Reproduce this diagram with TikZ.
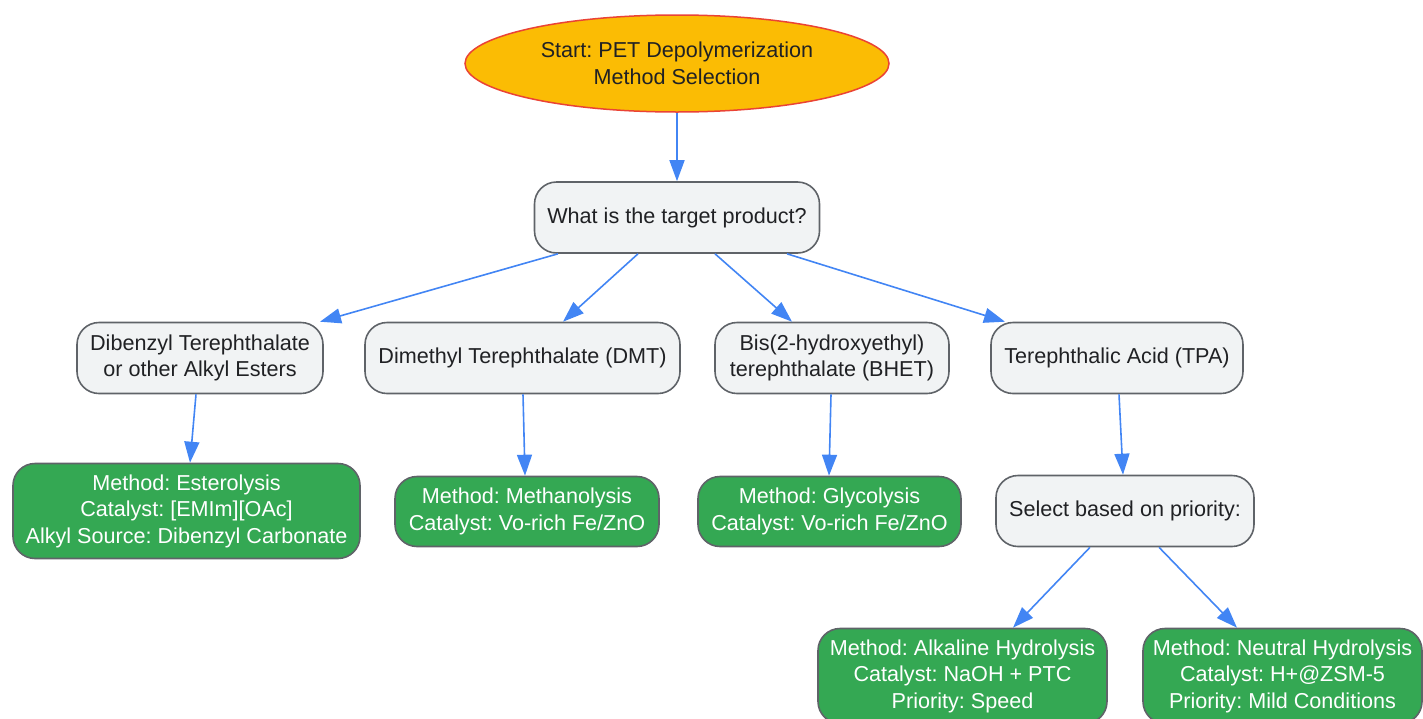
\documentclass[tikz,border=0pt]{standalone}
\usepackage{fontspec}
\setmainfont{Liberation Sans}
\usetikzlibrary{shapes.geometric,arrows.meta}

\definecolor{startfill}{HTML}{FBBC04}
\definecolor{startline}{HTML}{EA4335}
\definecolor{boxfill}{HTML}{F1F3F4}
\definecolor{boxline}{HTML}{5F6368}
\definecolor{methodfill}{HTML}{34A853}
\definecolor{arrowblue}{HTML}{4285F4}
\definecolor{textdark}{HTML}{202124}

\tikzset{
    every node/.style={font=\fontsize{21.6}{26.5}\selectfont, align=center, inner sep=0pt},
    startnode/.style={ellipse, draw=startline, fill=startfill, line width=1.5pt, text=textdark,
        minimum width=424pt, minimum height=97pt},
    choice/.style={draw=boxline, fill=boxfill, rounded corners=22pt, line width=1.6pt,
        text=textdark, minimum height=71pt},
    method/.style={draw=boxline, fill=methodfill, rounded corners=22pt, line width=1.6pt,
        text=white, minimum height=70pt},
    flow/.style={draw=arrowblue, line width=1.6pt, -{Triangle[length=21pt,width=15pt]}},
}

\begin{document}
\frenchspacing
\begin{tikzpicture}[x=1pt, y=-1pt]
\path[use as bounding box, clip] (0,0) rectangle (1423,718);

\node[startnode] (start) at (677,63.5) {Start: PET Depolymerization\\Method Selection};
\node[choice, minimum width=285pt] (target) at (677,217.5) {What is the target product?};

\node[choice, minimum width=246pt] (alkyl) at (200,358) {Dibenzyl Terephthalate\\or other Alkyl Esters};
\node[choice, minimum width=315pt] (dmt) at (522.5,358) {Dimethyl Terephthalate (DMT)};
\node[choice, minimum width=234pt] (bhet) at (832,358) {Bis(2-hydroxyethyl)\\terephthalate (BHET)};
\node[choice, minimum width=252pt] (tpa) at (1117,358) {Terephthalic Acid (TPA)};

\node[method, minimum width=347pt, minimum height=95pt] (ester) at (186.5,511)
    {Method: Esterolysis\\Catalyst: [EMIm][OAc]\\Alkyl Source: Dibenzyl Carbonate};
\node[method, minimum width=264pt] (methanol) at (527,511.5)
    {Method: Methanolysis\\Catalyst: Vo-rich Fe/ZnO};
\node[method, minimum width=263pt] (glycol) at (829.5,511.5)
    {Method: Glycolysis\\Catalyst: Vo-rich Fe/ZnO};
\node[choice, minimum width=258pt] (priority) at (1125,511) {Select based on priority:};

\node[method, minimum width=289pt, minimum height=95pt] (alkaline) at (962.5,676)
    {Method: Alkaline Hydrolysis\\Catalyst: NaOH + PTC\\Priority: Speed};
\node[method, minimum width=279pt, minimum height=95pt] (neutral) at (1282.5,676)
    {Method: Neutral Hydrolysis\\Catalyst: H+@ZSM-5\\Priority: Mild Conditions};

\draw[flow] (start.south) -- (target.north);
\draw[flow] ([xshift=-119pt]target.south) -- ([xshift=120pt]alkyl.north);
\draw[flow] ([xshift=-39pt]target.south) -- ([xshift=40.5pt]dmt.north);
\draw[flow] ([xshift=38pt]target.south) -- ([xshift=-40pt]bhet.north);
\draw[flow] ([xshift=110pt]target.south) -- ([xshift=-112pt]tpa.north);

\draw[flow] ([xshift=-4pt]alkyl.south) -- ([xshift=3.5pt]ester.north);
\draw[flow] ([xshift=0.5pt]dmt.south) -- ([xshift=-2pt]methanol.north);
\draw[flow] ([xshift=-1pt]bhet.south) -- ([xshift=-0.5pt]glycol.north);
\draw[flow] ([xshift=2pt]tpa.south) -- ([xshift=-2pt]priority.north);

\draw[flow] ([xshift=-35pt]priority.south) -- ([xshift=50.5pt]alkaline.north);
\draw[flow] ([xshift=34pt]priority.south) -- ([xshift=-45.5pt]neutral.north);

\end{tikzpicture}
\end{document}
